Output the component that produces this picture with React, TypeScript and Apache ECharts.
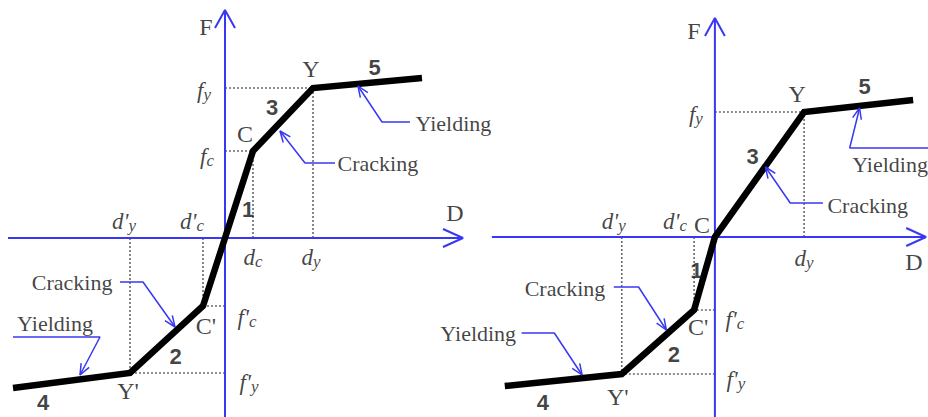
import React, { useEffect, useRef } from "react";
import * as echarts from "echarts";

type Pt = [number, number];

// ---- Backbone curves: displacement D vs force F (same unit scale on both axes) ----
// Model A: trilinear in both loading directions.
// Order: end of branch 4, Y', C', origin, C, Y, end of branch 5
const trilinearD = [-21.2, -9.5, -2.2, 0, 2.8, 8.8, 19.7];
const trilinearF = [-15.0, -13.5, -6.8, 0, 8.7, 15.0, 16.0];
// Model B: bilinear positive branch (C at the origin), trilinear negative branch.
// Order: end of branch 4, Y', C', origin (C), Y, end of branch 5
const mixedD = [-21.2, -9.4, -2.1, 0, 9.0, 20.0];
const mixedF = [-14.9, -13.7, -7.3, 0, 12.5, 13.7];

// Symbol labels used on the axes
const symF = "{rm|F}";
const symD = "{rm|D}";
const sym = {
  fy: "{it|f}{sub|y}",
  fc: "{it|f}{sub|c}",
  dy: "{it|d}{sub|y}",
  dc: "{it|d}{sub|c}",
  fyN: "{it|f'}{sub|y}",
  fcN: "{it|f'}{sub|c}",
  dyN: "{it|d'}{sub|y}",
  dcN: "{it|d'}{sub|c}",
};

const INK = "#111111";
const AXIS_BLUE = "#3838f2";
const GUIDE = "#6a6a6a";
const PX = 10; // pixels per data unit, both axes
const H = 417;

const SERIF = '"Liberation Serif", "Times New Roman", serif';
const SANS = '"Liberation Sans", Arial, sans-serif';

const RICH: any = {
  it: { fontFamily: SERIF, fontStyle: "italic", fontSize: 23, lineHeight: 26, color: INK },
  sub: { fontFamily: SERIF, fontStyle: "italic", fontSize: 17, lineHeight: 13, verticalAlign: "bottom", color: INK },
  rm: { fontFamily: SERIF, fontSize: 24, lineHeight: 26, color: INK },
  num: { fontFamily: SANS, fontWeight: "bold", fontSize: 22, lineHeight: 24, color: INK },
  note: { fontFamily: SERIF, fontSize: 22, lineHeight: 24, color: INK },
};

const mid = (a: Pt, b: Pt): Pt => [(a[0] + b[0]) / 2, (a[1] + b[1]) / 2];

function chevron(tip: Pt, from: Pt, len: number, half: number): Pt[] {
  const dx = tip[0] - from[0];
  const dy = tip[1] - from[1];
  const L = Math.hypot(dx, dy);
  const ux = dx / L;
  const uy = dy / L;
  const bx = tip[0] - ux * len;
  const by = tip[1] - uy * len;
  return [
    [bx - uy * half, by + ux * half],
    tip,
    [bx + uy * half, by - ux * half],
  ];
}

interface Lbl {
  at: Pt;
  text: string;
  off?: [number, number];
  pos?: "inside" | "left" | "right";
  dist?: number;
}

interface Callout {
  tip: Pt;
  elbow: Pt;
  end: Pt;
  text: string;
  textAt: "end" | "elbow";
  pos: "inside" | "left" | "right";
  dist?: number;
  off?: [number, number];
}

interface Panel {
  origin: Pt; // pixel position of D = 0, F = 0
  left: number;
  width: number;
  dAxis: [number, number];
  fAxis: [number, number];
  curve: Pt[];
  breaks: Pt[];
  labels: Lbl[];
  callouts: Callout[];
}

// ---- Model A ----
const A: Pt[] = trilinearD.map((d, i) => [d, trilinearF[i]] as Pt);
const [a4, aYp, aCp, aO, aC, aY, a5] = A;
const aD: [number, number] = [-21.7, 23.8];
const aF: [number, number] = [-17.9, 22.8];

const panelA: Panel = {
  origin: [225, 238],
  left: 0,
  width: 490,
  dAxis: aD,
  fAxis: aF,
  curve: A,
  breaks: [aYp, aCp, aC, aY],
  labels: [
    { at: [0, aF[1]], text: symF, off: [-19, 17] },
    { at: [aD[1], 0], text: symD, off: [-8, -25] },
    { at: [0, aY[1]], text: sym.fy, off: [-21, 2] },
    { at: [0, aC[1]], text: sym.fc, off: [-18, 5] },
    { at: aC, text: "{rm|C}", off: [-8, -17] },
    { at: mid(aC, aY), text: "{num|3}", off: [-11, -12] },
    { at: aY, text: "{rm|Y}", off: [-2, -19] },
    { at: mid(aY, a5), text: "{num|5}", off: [7, -16] },
    { at: mid(aO, aC), text: "{num|1}", off: [9, 15] },
    { at: [aYp[0], 0], text: sym.dyN, off: [-6, -17] },
    { at: [aCp[0], 0], text: sym.dcN, off: [-11, -17] },
    { at: [aC[0], 0], text: sym.dc, off: [0, 19] },
    { at: [aY[0], 0], text: sym.dy, off: [-2, 19] },
    { at: aCp, text: "{rm|C'}", off: [3, 20] },
    { at: [0, aCp[1]], text: sym.fcN, off: [22, 11] },
    { at: mid(aCp, aYp), text: "{num|2}", off: [9, 17] },
    { at: [0, aYp[1]], text: sym.fyN, off: [24, 9] },
    { at: aYp, text: "{rm|Y'}", off: [-2, 18] },
    { at: a4, text: "{num|4}", off: [30, 14] },
  ],
  callouts: [
    { tip: [5.5, 10.7], elbow: [8.0, 7.5], end: [11.0, 7.5], text: "Cracking", textAt: "end", pos: "right", dist: 2 },
    { tip: [13.3, 15.2], elbow: [15.7, 11.6], end: [18.5, 11.6], text: "Yielding", textAt: "end", pos: "right", dist: 5, off: [0, 1] },
    { tip: [-5.0, -8.9], elbow: [-8.2, -4.4], end: [-10.5, -4.4], text: "Cracking", textAt: "end", pos: "left", dist: 7 },
    { tip: [-14.5, -13.7], elbow: [-12.5, -9.9], end: [-21.2, -9.9], text: "Yielding", textAt: "end", pos: "inside", off: [42, -14] },
  ],
};

// ---- Model B ----
const B: Pt[] = mixedD.map((d, i) => [d, mixedF[i]] as Pt);
const [b4, bYp, bCp, bO, bY, b5] = B;
const bD: [number, number] = [-22.5, 21.3];
const bF: [number, number] = [-18.0, 21.9];

const panelB: Panel = {
  origin: [717, 237],
  left: 480,
  width: 452,
  dAxis: bD,
  fAxis: bF,
  curve: B,
  breaks: [bYp, bCp, bY],
  labels: [
    { at: [0, bF[1]], text: symF, off: [-21, 13] },
    { at: [bD[1], 0], text: symD, off: [-12, 25] },
    { at: [0, bY[1]], text: sym.fy, off: [-19, 2] },
    { at: bY, text: "{rm|Y}", off: [-7, -18] },
    { at: mid(bY, b5), text: "{num|5}", off: [6, -20] },
    { at: mid(bO, bY), text: "{num|3}", off: [-7, -18] },
    { at: bO, text: "{rm|C}", off: [-13, -12] },
    { at: [bCp[0], 0], text: sym.dcN, off: [-19, -16] },
    { at: [bYp[0], 0], text: sym.dyN, off: [-8, -16] },
    { at: mid(bO, bCp), text: "{num|1}", off: [-8, -3] },
    { at: [bY[0], 0], text: sym.dy, off: [0, 21] },
    { at: bCp, text: "{rm|C'}", off: [4, 17] },
    { at: [0, bCp[1]], text: sym.fcN, off: [20, 9] },
    { at: mid(bCp, bYp), text: "{num|2}", off: [16, 12] },
    { at: [0, bYp[1]], text: sym.fyN, off: [21, 5] },
    { at: bYp, text: "{rm|Y'}", off: [-4, 23] },
    { at: b4, text: "{num|4}", off: [38, 16] },
  ],
  callouts: [
    { tip: [14.6, 12.9], elbow: [13.6, 8.9], end: [21.8, 8.9], text: "Yielding", textAt: "elbow", pos: "right", dist: 2, off: [0, 16] },
    { tip: [5.1, 7.0], elbow: [7.6, 3.4], end: [10.9, 3.4], text: "Cracking", textAt: "end", pos: "right", dist: 4, off: [0, 2] },
    { tip: [-4.9, -9.3], elbow: [-7.7, -5.0], end: [-10.2, -5.0], text: "Cracking", textAt: "end", pos: "left", dist: 8, off: [0, 1] },
    { tip: [-13.4, -13.8], elbow: [-16.2, -9.6], end: [-19.5, -9.6], text: "Yielding", textAt: "end", pos: "left", dist: 5 },
  ],
};

const panels = [panelA, panelB];

function polyline(g: number, pts: Pt[], lineStyle: any, z: number): any {
  return {
    type: "line",
    xAxisIndex: g,
    yAxisIndex: g,
    data: pts,
    symbol: "none",
    showSymbol: false,
    silent: true,
    clip: false,
    z,
    lineStyle,
  };
}

function buildOption(): any {
  const grid: any[] = [];
  const xAxis: any[] = [];
  const yAxis: any[] = [];
  const series: any[] = [];

  panels.forEach((p, g) => {
    const [ox, oy] = p.origin;
    grid.push({ left: p.left, top: 0, width: p.width, height: H, containLabel: false });
    xAxis.push({
      type: "value",
      gridIndex: g,
      min: (p.left - ox) / PX,
      max: (p.left + p.width - ox) / PX,
      show: false,
    });
    yAxis.push({
      type: "value",
      gridIndex: g,
      min: (oy - H) / PX,
      max: oy / PX,
      show: false,
    });

    const guide = { color: GUIDE, width: 1.6, type: [2, 2] };
    p.breaks.forEach((b) => {
      series.push(polyline(g, [[b[0], 0], b], guide, 1));
      series.push(polyline(g, [[0, b[1]], b], guide, 1));
    });

    const axisStyle = { color: AXIS_BLUE, width: 2 };
    const dTip: Pt = [p.dAxis[1], 0];
    const fTip: Pt = [0, p.fAxis[1]];
    series.push(polyline(g, [[p.dAxis[0], 0], dTip], axisStyle, 2));
    series.push(polyline(g, chevron(dTip, [0, 0], 2.0, 0.9), axisStyle, 2));
    series.push(polyline(g, [[0, p.fAxis[0]], fTip], axisStyle, 2));
    series.push(polyline(g, chevron(fTip, [0, 0], 1.8, 1.0), axisStyle, 2));

    series.push(
      polyline(g, p.curve, { color: "#000", width: 6.5, join: "miter", cap: "butt" }, 3)
    );

    const calloutStyle = { color: AXIS_BLUE, width: 1.5 };
    const texts: Lbl[] = [];
    p.callouts.forEach((c) => {
      series.push(polyline(g, [c.end, c.elbow, c.tip], calloutStyle, 4));
      series.push(polyline(g, chevron(c.tip, c.elbow, 1.1, 0.45), calloutStyle, 4));
      texts.push({
        at: c.textAt === "end" ? c.end : c.elbow,
        text: `{note|${c.text}}`,
        pos: c.pos,
        dist: c.dist,
        off: c.off,
      });
    });

    const all = [...p.labels, ...texts];
    series.push({
      type: "scatter",
      xAxisIndex: g,
      yAxisIndex: g,
      symbolSize: 1,
      silent: true,
      clip: false,
      z: 5,
      itemStyle: { color: "rgba(0,0,0,0)" },
      data: all.map((l) => ({
        value: l.at,
        label: {
          show: true,
          position: l.pos ?? "inside",
          distance: l.dist ?? 0,
          offset: l.off ?? [0, 0],
          formatter: l.text,
          rich: RICH,
          color: INK,
        },
      })),
    });
  });

  return {
    animation: false,
    backgroundColor: "#ffffff",
    grid,
    xAxis,
    yAxis,
    series,
  };
}

export default function App() {
  const ref = useRef<HTMLDivElement>(null);

  useEffect(() => {
    if (!ref.current) return;
    const chart = echarts.init(ref.current, undefined, { renderer: "svg" });
    chart.setOption(buildOption());
    return () => chart.dispose();
  }, []);

  return (
    <div
      ref={ref}
      style={{ position: "fixed", left: 0, top: 0, width: 928, height: 417, background: "#fff" }}
    />
  );
}
